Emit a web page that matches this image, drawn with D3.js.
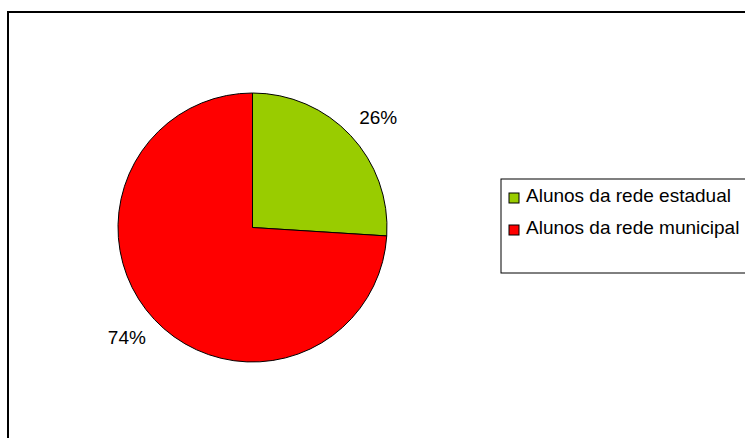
<!DOCTYPE html>
<html>
<head>
<meta charset="utf-8">
<script src="https://cdn.jsdelivr.net/npm/d3@7"></script>
<style>
	body { margin: 0; background: #fff; }
	svg { display: block; }
</style>
</head>
<body>
<svg id="chart" width="745" height="438"></svg>
<script>
let categories = ['Alunos da rede estadual', 'Alunos da rede municipal']
let values = [26, 74]
let colors = ['#99CC00', '#FF0000']

let svg = d3.select('#chart')
let font = '"Liberation Sans", Arial, sans-serif'

// outer frame, runs off the right and bottom edges
svg.append('path')
	.attr('d', 'M8,450 L8,12 L760,12')
	.attr('fill', 'none')
	.attr('stroke', '#000')
	.attr('stroke-width', 2)

let cx = 252.5, cy = 227.5, r = 134.5

let pie = d3.pie().sort(null).value(d => d.v)
let arcs = pie(values.map((v, i) => ({v: v, label: categories[i], fill: colors[i]})))

let arc = d3.arc().innerRadius(0).outerRadius(r)
let labelArc = d3.arc().innerRadius(167).outerRadius(167)
// labels sit a touch clockwise of the slice middle, as in the original
let shift = 2 * Math.PI / 180
let labelPos = d => labelArc.centroid({startAngle: d.startAngle + shift, endAngle: d.endAngle + shift})

let g = svg.append('g').attr('transform', `translate(${cx},${cy})`)

g.selectAll('path.slice').data(arcs).enter().append('path')
	.attr('class', 'slice')
	.attr('d', arc)
	.attr('fill', d => d.data.fill)
	.attr('stroke', '#000')
	.attr('stroke-width', 1)

let total = d3.sum(values)
g.selectAll('text.pct').data(arcs).enter().append('text')
	.attr('class', 'pct')
	.attr('x', d => labelPos(d)[0])
	.attr('y', d => labelPos(d)[1])
	.attr('text-anchor', 'middle')
	.attr('dominant-baseline', 'central')
	.style('font-family', font)
	.style('font-size', '19px')
	.style('fill', '#000')
	.text(d => Math.round(d.data.v / total * 100) + '%')

// legend
let lg = svg.append('g').attr('transform', 'translate(501,179)')
lg.append('rect')
	.attr('x', 0).attr('y', 0)
	.attr('width', 260).attr('height', 94)
	.attr('fill', '#fff')
	.attr('stroke', '#000')
	.attr('stroke-width', 1)

let rows = lg.selectAll('g.row').data(categories).enter().append('g')
	.attr('class', 'row')
	.attr('transform', (d, i) => `translate(0,${23 + i * 32})`)

rows.append('rect')
	.attr('x', 8).attr('y', -9)
	.attr('width', 10).attr('height', 10)
	.attr('fill', (d, i) => colors[i])
	.attr('stroke', '#000')
	.attr('stroke-width', 1)

rows.append('text')
	.attr('x', 25).attr('y', 0)
	.style('font-family', font)
	.style('font-size', '19px')
	.style('fill', '#000')
	.text(d => d)
</script>
</body>
</html>
